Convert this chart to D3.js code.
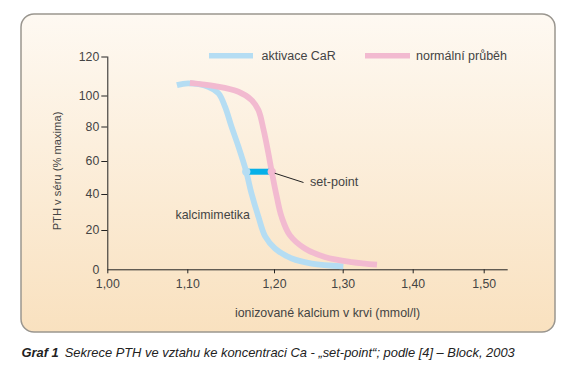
<!DOCTYPE html>
<html><head><meta charset="utf-8">
<script src="https://cdn.jsdelivr.net/npm/d3@7"></script>
<style>
html,body{margin:0;padding:0;background:#fff;}
svg{display:block;font-family:"Liberation Sans",Arial,sans-serif;}
</style></head>
<body>
<svg id="c" width="573" height="370"></svg>
<script>
// ---- data ----
const xTicks = [1.00, 1.10, 1.20, 1.30, 1.40, 1.50];
const yTicks = [0, 20, 40, 60, 80, 100, 120];
const seriesNames = ["aktivace CaR", "normální průběh"];
// aktivace CaR (blue)
const blueX = [1.087, 1.101, 1.124, 1.136, 1.1435, 1.151, 1.159, 1.168, 1.174, 1.182, 1.190, 1.2015, 1.226, 1.255, 1.301];
const blueY = [105.3, 106.2, 104.5, 101.1, 92.8, 79.9, 68.3, 53.5, 40.4, 27.4, 16.6, 10.6, 5.5, 2.9, 1.5];
// normální průběh (pink)
const pinkX = [1.103, 1.132, 1.159, 1.174, 1.182, 1.188, 1.1935, 1.1974, 1.204, 1.211, 1.223, 1.245, 1.274, 1.313, 1.349];
const pinkY = [106.5, 104.8, 101.9, 97.1, 90.6, 78.0, 64.5, 53.5, 38.5, 27.4, 17.4, 10.6, 6.3, 3.7, 2.4];
// set-point
const setPointY = 53.5;
const setPointX = [1.168, 1.1974];

const svg = d3.select("#c");
const defs = svg.append("defs");
const grad = defs.append("linearGradient").attr("id","bg").attr("x1",0).attr("y1",0).attr("x2",0).attr("y2",1);
grad.append("stop").attr("offset","0%").attr("stop-color","#fef9f2");
grad.append("stop").attr("offset","100%").attr("stop-color","#f9e1bf");

svg.append("rect").attr("x",21).attr("y",14).attr("width",534).attr("height",318)
  .attr("rx",13).attr("fill","url(#bg)").attr("stroke","#9a968f").attr("stroke-width",1.5);

// scales (hand-drawn original has uneven tick spacing)
const x = d3.scaleLinear().domain(xTicks).range([107.3, 187.3, 274, 342.7, 412.7, 483.7]);
const y = d3.scaleLinear().domain(yTicks).range([269.3, 230, 194, 161, 126.5, 95.5, 56.5]);

const fmt = d => d3.format(".2f")(d).replace(".", ",");
const txt = "#444";

// x axis
const gx = svg.append("g").attr("transform","translate(0,269.3)")
  .call(d3.axisBottom(x).tickValues(xTicks).tickSize(4).tickPadding(6).tickFormat(fmt));
gx.select(".domain").attr("d","M107.3,0.5H507.7").attr("stroke","#222");
gx.selectAll(".tick line").attr("stroke","#222");
gx.selectAll(".tick text").attr("fill",txt).attr("font-size",12.3).attr("font-family","Liberation Sans, Arial, sans-serif");

// y axis
const gy = svg.append("g").attr("transform","translate(107.3,0)")
  .call(d3.axisLeft(y).tickValues(yTicks).tickSize(6).tickPadding(2));
gy.select(".domain").attr("d","M0.5,56.5V269.3").attr("stroke","#222");
gy.selectAll(".tick line").attr("stroke","#222");
gy.selectAll(".tick text").attr("fill",txt).attr("font-size",12.3).attr("font-family","Liberation Sans, Arial, sans-serif");
gy.selectAll(".tick").filter(d => d===0).select("line").remove();

// axis titles
svg.append("text").attr("x",327.5).attr("y",317).attr("text-anchor","middle")
  .attr("font-size",12.4).attr("fill",txt).text("ionizované kalcium v krvi (mmol/l)");
svg.append("text").attr("transform","translate(61,171) rotate(-90)").attr("text-anchor","middle")
  .attr("font-size",11.2).attr("fill",txt).text("PTH v séru (% maxima)");

// curves
const line = d3.line().x(d => x(d[0])).y(d => y(d[1])).curve(d3.curveCatmullRom.alpha(0.5));
const blue = blueX.map((v,i) => [v, blueY[i]]);
const pink = pinkX.map((v,i) => [v, pinkY[i]]);
svg.append("path").attr("d", line(blue)).attr("fill","none").attr("stroke","#b5ddf3").attr("stroke-width",5.8);
svg.append("path").attr("d", line(pink)).attr("fill","none").attr("stroke","#f2bad0").attr("stroke-width",5.8);

// set-point bar
svg.append("line").attr("x1",x(setPointX[0])).attr("x2",x(setPointX[1]))
  .attr("y1",y(setPointY)).attr("y2",y(setPointY)).attr("stroke","#07b0e8").attr("stroke-width",6);
svg.append("circle").attr("cx",x(setPointX[0])).attr("cy",y(setPointY)).attr("r",4.2).attr("fill","#b5ddf3");
svg.append("circle").attr("cx",x(setPointX[1])).attr("cy",y(setPointY)).attr("r",4.2).attr("fill","#f2bad0");
svg.append("line").attr("x1",x(setPointX[1])+3).attr("y1",y(setPointY)+1.5).attr("x2",303.5).attr("y2",182.5)
  .attr("stroke","#222").attr("stroke-width",1);
svg.append("text").attr("x",310).attr("y",186).attr("font-size",12.6).attr("fill",txt).text("set-point");
svg.append("text").attr("x",175.5).attr("y",218.5).attr("font-size",12.4).attr("fill",txt).text("kalcimimetika");

// legend
const legend = [{c:"#b5ddf3", x0:209, x1:253, tx:261.5}, {c:"#f2bad0", x0:365, x1:410, tx:416}];
legend.forEach((l,i) => {
  svg.append("line").attr("x1",l.x0).attr("x2",l.x1).attr("y1",55.7).attr("y2",55.7).attr("stroke",l.c).attr("stroke-width",5.5);
  svg.append("text").attr("x",l.tx).attr("y",60.2).attr("font-size",12.5).attr("fill",txt).text(seriesNames[i]);
});

// caption
const cap = svg.append("text").attr("x",21.5).attr("y",356.5).attr("font-size",12.9).attr("font-style","italic").attr("fill","#222");
cap.append("tspan").attr("font-weight","bold").text("Graf 1");
cap.append("tspan").attr("dx",6).text("Sekrece PTH ve vztahu ke koncentraci Ca - „set-point“; podle [4] – Block, 2003");
</script>
</body></html>
